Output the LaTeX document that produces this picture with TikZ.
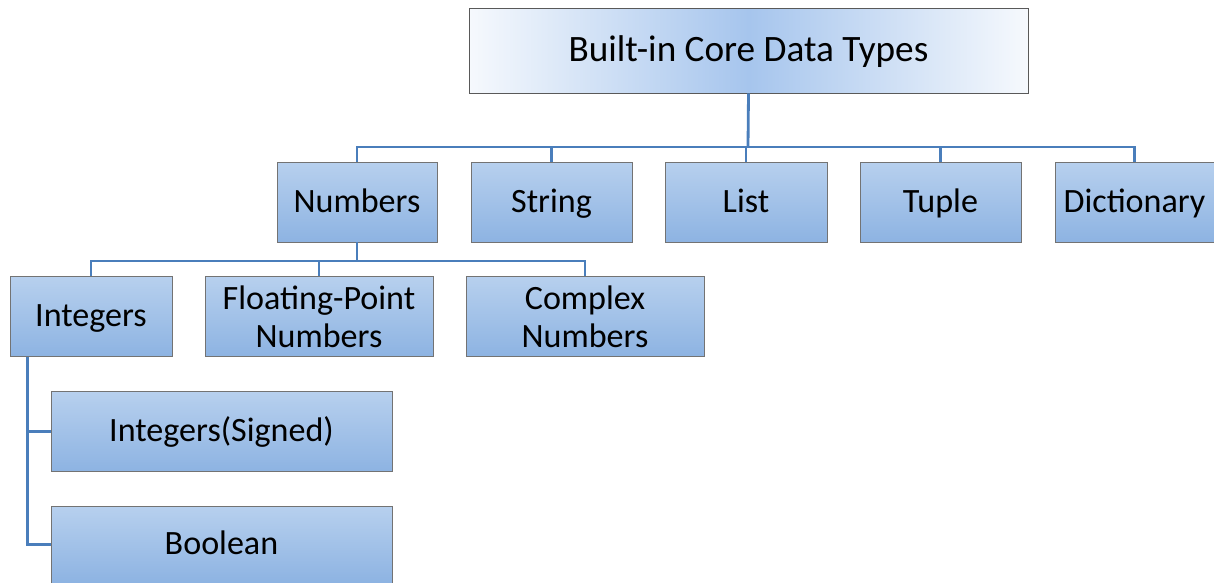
\documentclass[tikz,border=0pt]{standalone}
\usepackage{fontspec}
\setmainfont{Carlito}
\usepackage{tikz}
\usetikzlibrary{positioning}

\definecolor{linkblue}{HTML}{4A7EBB}
\definecolor{boxtop}{HTML}{B7D0EE}
\definecolor{boxbot}{HTML}{8DB3E2}
\definecolor{rootmid}{HTML}{A6C5ED}
\definecolor{rootedge}{HTML}{F6F9FD}

\begin{document}
\begin{tikzpicture}[
    x=0.02cm, y=-0.02cm,
    rootbox/.style={draw=black!65, line width=0.5pt, inner sep=0pt, align=center,
        minimum width=11.18cm, minimum height=1.7cm, shading=axis,
        left color=rootedge, right color=rootedge, middle color=rootmid,
        text height=0.55cm, text depth=0.13cm,
        font=\fontsize{21.2}{25}\selectfont},
    catbox/.style={draw=black!55, line width=0.5pt, inner sep=0pt, align=center,
        minimum height=1.6cm, top color=boxtop, bottom color=boxbot,
        text height=0.5cm, text depth=0.1cm,
        font=\fontsize{19.4}{21.5}\selectfont},
    twoline/.style={text height=, text depth=},
    link/.style={draw=linkblue, line width=1.6pt}
]
\useasboundingbox (0,0) rectangle (1214,582);

% top of the tree
\node[rootbox] (root) at (748.5,50.5) {Built-in Core Data Types};

% second row
\node[catbox, minimum width=3.2cm] (num) at (357,202) {Numbers};
\node[catbox, minimum width=3.22cm] (str) at (551.5,202) {String};
\node[catbox, minimum width=3.24cm] (lst) at (746,202) {List};
\node[catbox, minimum width=3.22cm] (tup) at (940.5,202) {Tuple};
\node[catbox, minimum width=3.18cm] (dic) at (1134.5,202) {Dictionary};

% kinds of numbers
\node[catbox, minimum width=3.24cm] (int) at (91,316.5) {Integers};
\node[catbox, twoline, minimum width=4.56cm] (flt) at (319,316.5) {Floating-Point\\Numbers};
\node[catbox, twoline, minimum width=4.76cm] (cpx) at (585,316.5) {Complex\\Numbers};

% kinds of integers
\node[catbox, minimum width=6.82cm] (sig) at (221.5,431.5) {Integers(Signed)};
\node[catbox, minimum width=6.82cm, minimum height=1.54cm] (bool) at (221.5,544.5) {Boolean};

% connectors
\coordinate (bar1) at (748,147);
\coordinate (bar2) at (357,261);
\draw[link] (root.south) -- (bar1);
\foreach \n in {num,str,lst,tup,dic}
    \draw[link] (bar1) -| (\n.north);
\draw[link] (num.south) -- (bar2);
\foreach \n in {int,flt,cpx}
    \draw[link] (bar2) -| (\n.north);
\draw[link] (int.south west) ++(18,0) |- (sig.west);
\draw[link] (int.south west) ++(18,0) |- (bool.west);
\end{tikzpicture}
\end{document}
